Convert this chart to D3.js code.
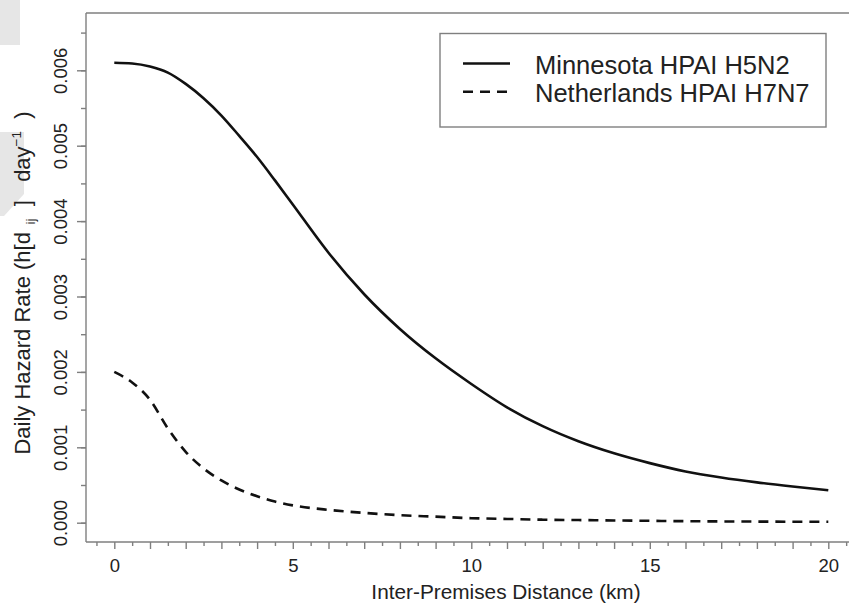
<!DOCTYPE html>
<html>
<head>
<meta charset="utf-8">
<script src="https://cdn.jsdelivr.net/npm/d3@7"></script>
<style>
  body { margin: 0; background: #fff; }
  text { font-family: Arial, "Liberation Sans", sans-serif; fill: #222; }
</style>
</head>
<body>
<div id="chart"></div>
<script>
// distances (km) and hazard rates
const distance = [0, 0.5, 1, 1.5, 2, 2.5, 3, 3.5, 4, 4.5, 5, 6, 7, 8, 9, 10, 11, 12, 13, 14, 15, 16, 17, 18, 19, 20];
const minnesota = [0.00610, 0.00609, 0.00605, 0.00597, 0.00582, 0.00563, 0.00540, 0.00513, 0.00485, 0.00454, 0.00422, 0.00358, 0.00303, 0.00257, 0.00218, 0.00184,
                   0.00153, 0.00128, 0.00108, 0.00092, 0.00079, 0.00068, 0.00060, 0.000535, 0.00048, 0.00043];
const netherlands = [0.00200, 0.00186, 0.00163, 0.00125, 0.00094, 0.00072, 0.00056, 0.00044, 0.00035, 0.00028, 0.00023, 0.00017, 0.00013, 0.00010, 0.00008, 0.00006,
                     0.00005, 0.00004, 0.000035, 0.00003, 0.000025, 0.00002, 0.000017, 0.000015, 0.000013, 0.000012];
const seriesNames = ["Minnesota HPAI H5N2", "Netherlands HPAI H7N7"];
const yTicks = [0, 0.001, 0.002, 0.003, 0.004, 0.005, 0.006];
const xTicks = [0, 5, 10, 15, 20];

const W = 849, H = 605;
const plotLeft = 86, plotTop = 13, plotRight = 849, plotBottom = 542;

const svg = d3.select("#chart")
  .append("svg")
    .attr("width", W)
    .attr("height", H);

// page-corner artefacts at the left edge
svg.append("rect").attr("x", 0).attr("y", 0).attr("width", 20).attr("height", 45).attr("fill", "#e6e6e6");
svg.append("path").attr("d", "M0,132 L24,132 L24,194 L4,216 L0,216 Z").attr("fill", "#e6e6e6");

const x = d3.scaleLinear().domain([0, 20]).range([114.3, 828.3]);
const y = d3.scaleLinear().domain([0, 0.006]).range([522.7, 70.3]);

const axisColor = "#7f7f7f";

// top frame line
svg.append("line")
  .attr("x1", plotLeft).attr("x2", plotRight).attr("y1", plotTop).attr("y2", plotTop)
  .attr("stroke", axisColor).attr("stroke-width", 1.4);

// y axis
const yMinor = d3.range(0, 0.0066, 0.0005);
const yAxisMinor = svg.append("g")
  .attr("transform", `translate(${plotLeft},0)`)
  .call(d3.axisLeft(y).tickValues(yMinor).tickSize(5).tickFormat(""));
const yAxis = svg.append("g")
  .attr("transform", `translate(${plotLeft},0)`)
  .call(d3.axisLeft(y).tickValues(yTicks).tickSize(9).tickFormat(d3.format(".3f")));
[yAxisMinor, yAxis].forEach(g => {
  g.select(".domain").remove();
  g.selectAll("line").attr("stroke", axisColor).attr("stroke-width", 1.4);
});
yAxis.selectAll("text")
  .attr("x", 0).attr("y", 0).attr("dy", null)
  .attr("text-anchor", "middle")
  .attr("font-size", 18.5)
  .attr("transform", "translate(-19.5,0) rotate(-90)")
  .style("fill", "#222");
svg.append("line")
  .attr("x1", plotLeft).attr("x2", plotLeft).attr("y1", plotTop).attr("y2", plotBottom)
  .attr("stroke", axisColor).attr("stroke-width", 1.4);

// x axis
const xMinor = d3.range(-0.5, 20.6, 0.5).filter(d => d % 1 !== 0);
const xMajor = d3.range(0, 21, 1);
const xAxisMinor = svg.append("g")
  .attr("transform", `translate(0,${plotBottom})`)
  .call(d3.axisBottom(x).tickValues(xMinor).tickSize(4).tickFormat(""));
const xAxis = svg.append("g")
  .attr("transform", `translate(0,${plotBottom})`)
  .call(d3.axisBottom(x).tickValues(xMajor).tickSize(7).tickFormat(d => xTicks.includes(d) ? d : ""));
[xAxisMinor, xAxis].forEach(g => {
  g.select(".domain").remove();
  g.selectAll("line").attr("stroke", axisColor).attr("stroke-width", 1.4);
});
xAxis.selectAll("text")
  .attr("y", 29.5).attr("dy", null)
  .attr("font-size", 18.5)
  .style("fill", "#222");
svg.append("line")
  .attr("x1", plotLeft).attr("x2", plotRight).attr("y1", plotBottom).attr("y2", plotBottom)
  .attr("stroke", axisColor).attr("stroke-width", 1.4);

// axis titles
svg.append("text")
  .attr("x", 506).attr("y", 599)
  .attr("text-anchor", "middle")
  .attr("font-size", 20.8)
  .text("Inter-Premises Distance (km)");

const yTitle = svg.append("text")
  .attr("transform", "translate(29.5,283) rotate(-90)")
  .attr("text-anchor", "middle")
  .attr("font-size", 22)
  .attr("xml:space", "preserve");
yTitle.append("tspan").text("Daily Hazard Rate (h[d");
yTitle.append("tspan").attr("font-size", 13.5).attr("dy", 5).text("  ij");
yTitle.append("tspan").attr("dy", -5).text("  ]   day");
yTitle.append("tspan").attr("font-size", 13.5).attr("dy", -9).text("\u22121");
yTitle.append("tspan").attr("dy", 9).text("  )");

// curves
const line = d3.line()
  .x((d, i) => x(distance[i]))
  .y(d => y(d))
  .curve(d3.curveMonotoneX);

svg.append("path")
  .attr("d", line(minnesota))
  .attr("fill", "none")
  .attr("stroke", "#111")
  .attr("stroke-width", 2.6);

svg.append("path")
  .attr("d", line(netherlands))
  .attr("fill", "none")
  .attr("stroke", "#111")
  .attr("stroke-width", 2.6)
  .attr("stroke-dasharray", "10,7");

// legend
const legend = svg.append("g");
legend.append("rect")
  .attr("x", 440).attr("y", 33.5)
  .attr("width", 386).attr("height", 93.5)
  .attr("fill", "#fff")
  .attr("stroke", axisColor).attr("stroke-width", 1.4);
seriesNames.forEach((name, i) => {
  const ly = 63.5 + i * 28.3;
  legend.append("line")
    .attr("x1", 463).attr("x2", 510).attr("y1", ly).attr("y2", ly)
    .attr("stroke", "#111").attr("stroke-width", 2.6)
    .attr("stroke-dasharray", i === 1 ? "10,7" : null);
  legend.append("text")
    .attr("x", 535).attr("y", ly + 10)
    .attr("font-size", 25.5)
    .text(name);
});
</script>
</body>
</html>
